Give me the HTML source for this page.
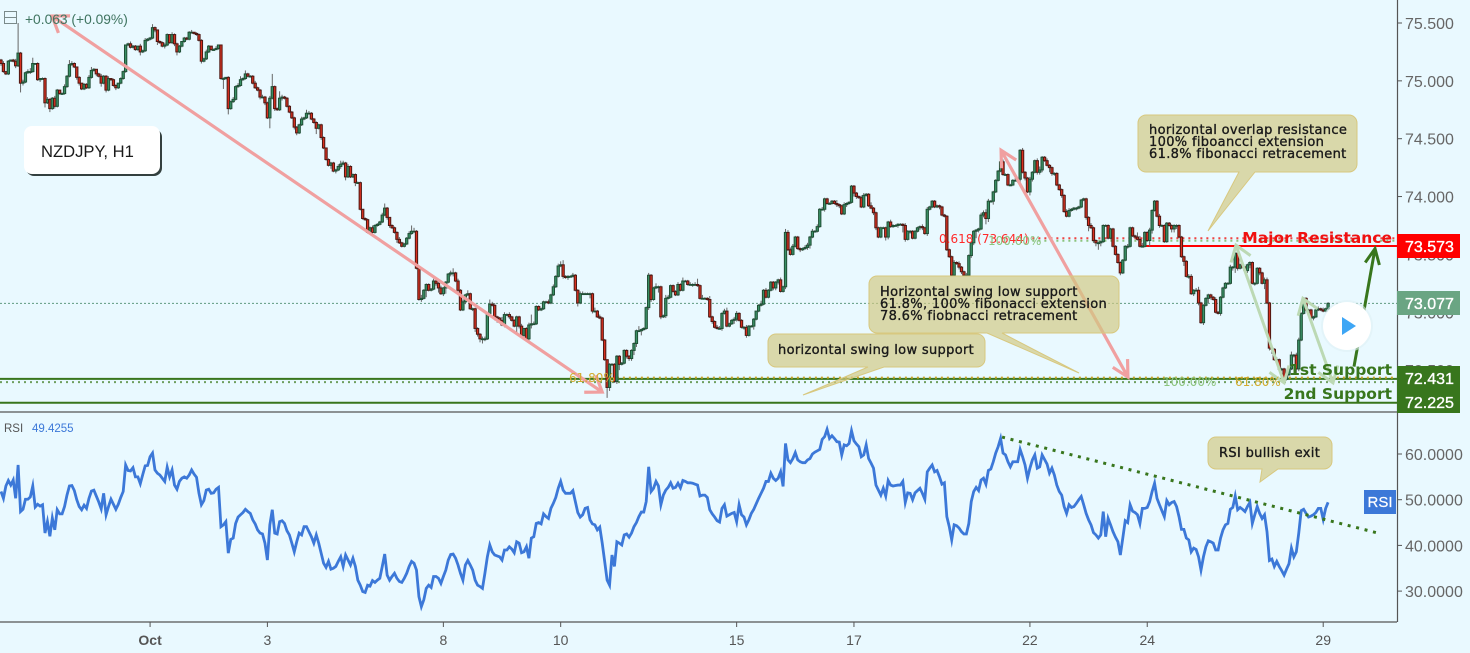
<!DOCTYPE html>
<html lang="en"><head><meta charset="utf-8"><title>NZDJPY H1 chart</title>
<style>
html,body{margin:0;padding:0;background:#e9f9ff;overflow:hidden}
svg{display:block;font-family:"Liberation Sans",sans-serif}
.note{font-family:"DejaVu Sans",sans-serif;font-size:13px;letter-spacing:.33px;fill:#1a1a1a;stroke:#1a1a1a;stroke-width:.35px}
.big{font-family:"DejaVu Sans",sans-serif;font-size:15.5px;font-weight:bold}
.tick{font-size:16px;fill:#666}
.xt{font-size:14px;fill:#555;text-anchor:middle}
.lbl{font-size:16px;fill:#fff;stroke:#fff;stroke-width:.35px}
.fib{font-family:"DejaVu Sans",sans-serif;font-size:12px}
</style></head>
<body>
<svg id="chart" width="1470" height="653" viewBox="0 0 1470 653" xmlns="http://www.w3.org/2000/svg">
<rect width="1470" height="653" fill="#e9f9ff"/>
<g id="levels"></g>
<g id="candles"></g>
<g id="rsi"></g>
<g id="arrows"></g>
<g>
<text class="fib" x="939" y="243" fill="#ff2a2a">0.618 (73.644)</text>
<text class="fib" x="988" y="245" fill="#8cc47e">100.00%</text>
<text class="fib" x="569" y="382" fill="#d2ac2e">61.80%</text>
<text class="fib" x="1163" y="386" fill="#8cc47e">100.00%</text>
<text class="fib" x="1235" y="386" fill="#d2ac2e">61.80%</text>
</g>
<g>
<path d="M1146 115H1349a8 8 0 0 1 8 8V164a8 8 0 0 1-8 8H1255L1208 231L1239 172H1146a8 8 0 0 1-8-8V123a8 8 0 0 1 8-8Z" fill="rgba(210,200,130,.68)" stroke="#d8c87f"/>
<text class="note" x="1149" y="134">horizontal overlap resistance</text>
<text class="note" x="1149" y="146">100% fiboancci extension</text>
<text class="note" x="1149" y="158">61.8% fibonacci retracement</text>
</g>
<g>
<path d="M877 276H1111a8 8 0 0 1 8 8V325a8 8 0 0 1-8 8H1002L1079 373L987 333H877a8 8 0 0 1-8-8V284a8 8 0 0 1 8-8Z" fill="rgba(210,200,130,.68)" stroke="#d8c87f"/>
<text class="note" x="880" y="296">Horizontal swing low support</text>
<text class="note" x="880" y="308">61.8%, 100% fibonacci extension</text>
<text class="note" x="880" y="320">78.6% fiobnacci retracement</text>
</g>
<g>
<path d="M776 334H977a8 8 0 0 1 8 8V359a8 8 0 0 1-8 8H884L803 395L868 367H776a8 8 0 0 1-8-8V342a8 8 0 0 1 8-8Z" fill="rgba(210,200,130,.68)" stroke="#d8c87f"/>
<text class="note" x="778" y="354">horizontal swing low support</text>
</g>
<g>
<path d="M1216 437H1324a8 8 0 0 1 8 8V461a8 8 0 0 1-8 8H1278L1260 482L1262 469H1216a8 8 0 0 1-8-8V445a8 8 0 0 1 8-8Z" fill="rgba(210,200,130,.68)" stroke="#d8c87f"/>
<text class="note" x="1219" y="457">RSI bullish exit</text>
</g>
<text class="big" x="1392" y="243" text-anchor="end" fill="#f01010">Major Resistance</text>
<text class="big" x="1392" y="375" text-anchor="end" fill="#38761d">1st Support</text>
<text class="big" x="1392" y="399" text-anchor="end" fill="#38761d">2nd Support</text>
<g id="axes"></g>
<g>
<rect x="1397" y="234" width="63" height="24" fill="#ff0000"/>
<text class="lbl" x="1405" y="252">73.573</text>
<rect x="1397" y="291" width="63" height="24" fill="#6aa583"/>
<text class="lbl" x="1405" y="309">73.077</text>
<rect x="1397" y="366" width="63" height="24" fill="#38761d"/>
<text class="lbl" x="1405" y="384">72.431</text>
<rect x="1397" y="390" width="63" height="23" fill="#38761d"/>
<text class="lbl" x="1405" y="408">72.225</text>
<rect x="1364" y="490" width="32" height="24" fill="#3c78d8"/>
<text x="1380" y="507" text-anchor="middle" font-size="15" fill="#fff" stroke="#fff" stroke-width=".2">RSI</text>
</g>
<g>
<rect x="4.5" y="11.5" width="12" height="12" fill="none" stroke="#7a8a8a"/>
<line x1="4.5" y1="17.5" x2="16.5" y2="17.5" stroke="#7a8a8a"/>
</g>
<text x="25" y="24" font-size="13.8" fill="#3f7460">+0.063 (+0.09%)</text>
<text x="4" y="432" font-size="11.5" fill="#555">RSI</text>
<text x="32" y="432" font-size="11.5" fill="#3c78d8">49.4255</text>
<g>
<rect x="26" y="129" width="136" height="47" rx="8" fill="#34403f"/>
<rect x="24" y="126" width="136" height="48" rx="8" fill="#fff"/>
<text x="41" y="157" font-size="16.6" fill="#1a1a1a">NZDJPY, H1</text>
</g>
<g>
<circle cx="1347" cy="326" r="26" fill="#dff0f5" opacity=".6"/>
<circle cx="1347" cy="326" r="24" fill="#fff"/>
<path d="M1342 317L1356 326L1342 335Z" fill="#3ea6f5"/>
</g>
</svg>
<script>
const closes=[
75.15,75.08,75.06,75.17,75.18,75.17,75.13,75.24,74.98,74.99,
75.07,75.08,75.08,75.15,75.15,75.01,75.02,75.02,74.81,74.84,
74.76,74.85,74.78,74.92,74.89,74.89,74.95,75.04,75.14,75.15,
75.12,75.03,74.98,74.93,74.97,74.94,75.03,75.09,75.10,75.06,
75.04,74.98,75.04,74.92,75.02,75.01,74.96,74.94,74.98,75.02,
75.08,75.31,75.32,75.29,75.30,75.27,75.30,75.25,75.26,75.35,
75.36,75.37,75.46,75.44,75.34,75.33,75.30,75.31,75.40,75.33,
75.40,75.32,75.25,75.30,75.34,75.37,75.36,75.42,75.42,75.41,
75.40,75.35,75.17,75.19,75.25,75.30,75.27,75.27,75.28,75.31,
75.02,75.02,75.03,74.76,74.82,74.84,74.95,74.96,75.01,75.02,
75.06,75.04,75.04,74.98,74.94,74.92,74.86,74.86,74.81,74.68,
74.85,74.95,74.76,74.75,74.85,74.86,74.85,74.78,74.73,74.68,
74.60,74.55,74.62,74.67,74.68,74.72,74.72,74.67,74.64,74.59,
74.62,74.51,74.42,74.32,74.27,74.29,74.22,74.23,74.26,74.28,
74.29,74.17,74.26,74.17,74.19,74.12,74.12,73.89,73.81,73.80,
73.69,73.73,73.69,73.75,73.76,73.78,73.84,73.90,73.82,73.75,
73.73,73.69,73.63,73.60,73.57,73.59,73.64,73.68,73.70,73.70,
73.38,73.11,73.12,73.19,73.24,73.19,73.20,73.27,73.25,73.21,
73.16,73.21,73.26,73.33,73.34,73.34,73.27,73.19,73.02,73.09,
73.15,73.16,73.03,73.03,72.86,72.81,72.77,72.77,72.77,72.99,
73.07,73.06,72.96,72.95,72.93,72.89,72.98,72.98,72.96,72.93,
72.88,72.96,72.88,72.80,72.86,72.77,72.89,72.90,72.90,73.05,
73.02,73.03,73.09,73.09,73.08,73.15,73.22,73.31,73.40,73.41,
73.31,73.30,73.31,73.31,73.32,73.19,73.08,73.16,73.16,73.16,
73.16,73.16,73.01,73.01,72.96,72.95,72.76,72.59,72.35,72.55,
72.55,72.40,72.62,72.55,72.56,72.67,72.62,72.60,72.67,72.73,
72.84,72.84,72.85,72.86,73.04,73.32,73.11,73.21,73.22,73.22,
72.96,72.97,73.12,73.13,73.23,73.18,73.15,73.24,73.19,73.27,
73.27,73.24,73.24,73.24,73.24,73.23,73.12,73.12,73.12,73.11,
72.96,72.92,72.87,72.86,72.86,72.99,73.01,72.88,72.90,72.93,
72.94,72.99,72.93,72.87,72.87,72.80,72.88,72.88,72.94,73.01,
73.06,73.07,73.19,73.13,73.19,73.26,73.21,73.26,73.28,73.18,
73.22,73.69,73.54,73.50,73.57,73.65,73.55,73.54,73.55,73.56,
73.58,73.65,73.70,73.70,73.74,73.89,73.89,73.98,73.94,73.94,
73.96,73.94,73.93,73.92,73.85,73.93,73.94,73.95,74.09,74.03,
74.00,73.99,73.91,74.01,74.02,73.92,73.90,73.86,73.73,73.65,
73.73,73.73,73.65,73.78,73.74,73.75,73.75,73.76,73.76,73.75,
73.63,73.70,73.70,73.64,73.70,73.73,73.74,73.73,73.68,73.89,
73.91,73.96,73.91,73.92,73.91,73.84,73.83,73.54,73.48,73.32,
73.43,73.42,73.39,73.35,73.32,73.32,73.49,73.60,73.70,73.71,
73.72,73.84,73.86,73.81,73.96,73.96,74.04,74.14,74.22,74.30,
74.19,74.19,74.10,74.10,74.14,74.14,74.15,74.40,74.21,74.16,
74.04,74.15,74.21,74.31,74.21,74.23,74.34,74.31,74.27,74.25,
74.20,74.20,74.10,74.06,74.01,73.87,73.83,73.88,73.89,73.90,
73.90,73.91,73.97,73.98,73.82,73.75,73.73,73.62,73.60,73.60,
73.61,73.75,73.75,73.64,73.72,73.57,73.50,73.43,73.34,73.45,
73.57,73.57,73.73,73.66,73.65,73.63,73.57,73.57,73.69,73.62,
73.71,73.88,73.96,73.83,73.75,73.75,73.61,73.77,73.75,73.72,
73.75,73.75,73.65,73.48,73.44,73.31,73.31,73.16,73.19,73.19,
73.08,72.91,73.06,73.12,73.15,73.13,73.11,73.00,72.99,73.13,
73.21,73.25,73.25,73.39,73.39,73.51,73.38,73.41,73.39,73.36,
73.41,73.43,73.25,73.25,73.38,73.34,73.25,73.28,73.08,72.69,
72.68,72.59,72.59,72.51,72.51,72.42,72.46,72.51,72.63,72.63,
72.51,72.76,72.99,73.12,73.02,73.02,72.95,72.96,73.02,73.03,
73.02,73.01,73.03,73.077];
const wickUp=[
1,2,0,1,0,1,2,26,1,2, 1,2,3,5,0,1,0,1,1,2,
1,1,2,1,0,1,2,1,4,2, 1,0,1,0,1,1,2,3,1,0,
1,2,1,1,2,0,1,1,0,1, 1,0,1,2,1,1,0,2,1,2,
1,1,3,1,0,1,1,2,1,0, 2,1,1,1,0,1,1,1,2,0,
1,1,1,1,2,1,0,1,2,0, 0,1,0,1,1,2,1,2,3,1,
3,1,1,1,2,1,1,2,1,1, 2,11,1,1,6,2,1,1,1,1,
1,1,1,2,1,3,2,1,1,1, 1,1,1,0,1,1,1,1,2,3,
2,1,2,1,1,1,1,1,0,1, 1,1,2,1,1,1,2,4,1,0,
1,1,1,2,1,1,1,2,5,3, 1,1,3,1,1,1,1,2,3,1,
2,1,1,1,2,4,1,2,1,2, 1,3,1,1,1,1,1,2,2,1,
4,2,2,1,1,3,2,1,2,1, 1,1,1,2,0,1,2,8,2,1,
1,1,1,1,2,1,2,1,2,3, 4,1,1,1,2,1,1,2,2,1,
1,1,1,3,1,2,1,1,0,1, 1,1,1,1,1,1,1,1,1,1,
1,4,1,1,1,2,1,1,3,1, 1,1,3,2,1,1,1,2,1,3,
1,1,2,1,2,5,1,3,1,1, 3,1,1,2,2,1,2,3,1,1,
2,2,1,1,1,2,1,1,1,0, 1,3,1,2,1,1,1,1,1,2,
1,3,2,2,2,1,1,1,1,2, 2,1,2,1,2,1,2,1,1,1,
1,1,3,1,1,2,1,1,1,1, 1,1,2,2,1,1,3,1,1,1,
1,1,1,1,2,1,1,1,1,1, 2,1,1,1,1,1,1,2,1,2,
1,1,1,1,1,1,1,1,1,1, 2,1,2,1,1,2,1,1,1,1,
1,2,2,3,2,1,1,1,1,2, 2,1,1,1,1,2,1,1,2,1,
1,2,1,1,2,3,1,1,2,1, 1,1,1,1,1,1,2,2,1,1,
1,1,1,1,1,1,2,1,1,1, 1,1,1,1,1,1,1,1,1,1,
1,2,1,1,1,4,3,3,1,1, 2,1,1,1,2,1,1,1,1,1,
1,1,1,1,1,1,2,2,1,2, 3,1,1,1,1,1,1,2,1,1,
1,1,1,2,1,1,1,1,1,1, 1,1,1,1,1,1,1,2,2,1,
1,1,2,1,1,1,1,1,3,1, 2,2,1,1,1,1,1,1,1,2,
1,2,1,1];
const wickDown=[
2,1,1,1,0,1,2,1,8,2, 1,1,2,1,1,1,2,1,4,1,
3,1,2,1,1,1,1,1,1,1, 1,2,2,1,1,1,1,1,1,2,
1,3,1,2,1,1,1,2,1,1, 1,1,1,1,1,1,1,3,1,1,
1,1,1,2,3,1,1,2,1,1, 1,2,3,1,1,1,1,1,1,1,
1,1,2,1,1,1,1,1,0,1, 1,9,1,5,1,1,1,1,1,1,
1,1,1,1,1,1,2,1,2,1, 9,1,2,1,1,2,1,1,1,1,
2,2,1,1,1,1,1,1,1,5, 1,2,1,1,1,3,1,2,1,2,
1,3,1,1,1,3,1,1,1,1, 1,2,1,1,1,1,1,1,2,2,
1,1,3,1,1,1,1,1,1,1, 1,1,2,1,6,1,1,1,2,4,
1,2,5,1,2,3,1,1,1,1, 2,1,1,2,3,2,3,4,2,1,
1,1,3,4,1,1,2,1,2,1, 1,6,2,1,1,1,2,3,1,1,
1,1,1,1,1,1,1,1,1,1, 2,1,2,1,1,1,3,1,1,1,
1,4,2,1,1,1,1,1,9,3, 1,1,2,5,1,1,2,2,2,4,
3,1,4,1,1,2,2,1,1,5, 2,1,2,1,1,1,1,1,1,1,
1,1,1,2,1,1,1,1,1,1, 1,2,1,1,1,2,1,1,1,1,
3,2,1,1,2,2,1,1,3,1, 1,1,1,1,1,1,2,2,2,1,
1,2,1,1,1,1,1,2,1,1, 2,3,1,1,1,1,1,2,1,1,
1,1,2,2,1,1,2,1,1,3, 2,1,1,1,1,1,1,2,2,1,
1,1,3,2,1,1,1,2,1,6, 2,1,2,1,1,1,2,2,1,2,
1,1,1,1,2,1,1,1,1,1, 1,1,2,2,1,1,1,2,2,6,
2,1,2,5,3,1,3,1,1,1, 1,1,1,1,1,1,2,3,1,2,
1,3,2,1,2,2,2,1,1,4, 2,2,1,1,2,1,1,1,1,1,
2,1,1,1,2,5,1,2,3,6, 3,1,1,1,1,1,1,1,2,1,
1,2,1,1,1,1,1,1,1,1, 5,3,1,1,2,1,1,1,1,3,
3,3,1,1,4,1,2,1,2,1, 2,1,2,1,4,2,1,1,1,2,
1,1,1,1,3,5,2,1,1,1, 2,3,1,2,1,2,1,5,1,2,
4,1,1,1,2,3,1,1,1,2, 5,2,1,1,1,1,1,2,1,1,
1,1,1,1];
const rsiValues=[
51.8,50.3,53.0,54.2,53.2,54.3,50.3,57.6,47.4,47.9,
50.1,50.1,50.6,53.0,48.4,49.0,48.6,48.9,42.7,45.2,
42.0,46.0,43.4,47.8,46.9,46.9,48.5,51.0,53.0,53.1,
52.0,50.0,48.5,47.8,48.8,48.1,50.3,51.9,52.1,50.8,
49.5,48.0,51.4,46.7,48.5,50.1,49.0,47.9,49.0,50.5,
51.8,57.6,56.4,56.3,57.0,55.0,55.0,53.5,55.5,57.4,
57.5,59.4,60.2,56.5,55.8,55.4,54.7,54.0,57.1,55.0,
56.5,53.2,52.3,54.0,54.7,55.0,54.7,55.4,56.5,55.6,
54.9,51.4,48.9,49.8,52.1,52.3,51.4,51.5,52.3,52.7,
44.1,44.5,45.2,38.3,41.3,41.6,44.8,46.2,46.7,47.2,
47.9,47.4,47.0,45.6,44.7,43.4,42.7,42.5,40.5,36.8,
44.5,47.8,42.7,42.5,45.2,45.4,44.8,43.2,42.3,40.5,
38.6,40.8,42.7,42.3,44.1,44.1,43.0,41.9,40.5,42.3,
40.5,38.3,36.1,35.2,36.5,34.8,35.0,35.4,36.5,37.5,
35.4,37.9,36.8,35.7,37.2,35.4,32.4,31.3,29.9,29.7,
31.3,31.1,32.3,31.9,32.4,32.8,35.4,38.1,33.5,32.4,
33.2,33.9,32.8,32.1,31.9,32.8,33.9,35.4,36.5,36.1,
34.6,28.8,26.6,28.1,30.6,31.3,30.8,33.2,33.2,32.8,
31.7,33.2,34.6,36.8,38.0,38.1,37.2,35.7,33.9,32.4,
35.7,36.7,35.7,34.6,32.4,31.3,31.0,30.6,33.9,37.5,
40.1,38.6,37.9,37.7,37.5,36.8,39.0,39.0,39.7,39.2,
38.4,40.8,40.5,38.4,38.6,39.7,37.2,41.6,41.9,44.8,
45.0,44.7,46.9,46.3,45.9,48.1,49.2,50.5,52.5,54.0,
52.1,51.4,51.4,51.4,52.0,49.6,47.2,46.2,46.7,48.1,
48.3,45.6,44.7,44.5,43.4,44.0,40.5,36.5,32.4,31.3,
37.9,35.4,40.8,40.5,40.1,42.3,42.5,41.8,42.7,44.1,
45.0,46.3,47.3,47.3,49.6,57.2,51.8,52.5,54.0,53.0,
48.9,51.0,52.1,52.7,53.7,52.5,52.7,53.6,52.6,54.2,
54.0,53.7,53.7,53.6,53.4,53.2,50.8,51.0,51.0,50.5,
47.8,46.9,46.2,45.4,45.1,48.1,48.9,46.4,46.7,47.0,
47.2,45.2,48.9,46.7,46.2,44.5,45.6,47.0,47.9,49.1,
50.3,51.4,52.5,54.0,54.0,55.8,54.7,54.2,54.7,56.1,
52.9,62.3,58.7,58.1,59.0,60.3,58.7,58.3,58.1,58.1,
58.7,59.0,60.0,60.4,60.7,61.0,63.2,63.8,65.4,63.4,
64.0,63.4,62.7,62.6,59.8,62.0,61.8,62.3,65.1,62.9,
62.2,61.6,59.4,59.8,62.0,59.0,58.0,56.9,53.2,52.1,
51.0,52.5,50.8,54.2,53.2,53.0,53.1,53.2,53.2,54.0,
49.4,51.5,51.4,50.0,51.5,52.0,52.5,51.4,50.1,56.1,
56.9,57.6,56.1,56.4,55.0,53.4,53.7,46.3,44.1,41.2,
44.5,44.3,43.8,43.0,42.5,42.5,44.8,49.6,51.8,52.7,
52.0,54.3,54.7,53.4,56.4,56.7,58.3,60.2,61.6,63.4,
60.2,59.8,58.3,57.2,58.3,58.3,58.3,61.0,59.4,57.6,
54.7,56.9,58.7,59.8,56.9,57.2,59.8,58.8,57.8,55.8,
56.9,55.4,53.2,51.8,51.0,48.5,47.0,48.9,48.3,48.5,
49.2,50.0,50.7,48.9,47.0,45.6,44.5,42.8,42.3,41.6,
42.3,47.4,41.9,45.9,44.5,43.0,41.8,40.8,37.9,41.6,
45.4,45.0,48.9,47.5,47.2,46.7,44.8,48.1,48.1,48.3,
49.6,51.8,53.6,50.3,48.9,47.6,46.3,49.8,48.9,49.4,
49.6,48.5,46.3,43.5,43.5,41.6,41.2,38.6,39.4,39.1,
37.5,34.6,37.5,39.7,41.0,40.8,40.5,39.0,39.0,41.6,
43.4,44.5,44.8,47.9,48.3,50.8,47.8,48.3,47.9,47.4,
48.5,49.4,44.8,46.7,48.5,47.0,45.9,46.7,43.0,36.7,
37.0,35.4,36.5,35.4,34.5,33.5,34.8,36.0,39.4,37.5,
38.6,42.7,47.6,47.9,47.0,46.2,46.4,46.7,47.2,48.1,
48.1,45.7,48.1,49.4255];
const priceTicks=[75.5,75,74.5,74,73.5,73,72.5];
const priceTickLabels=["75.500","75.000","74.500","74.000","73.500","73.000","72.500"];
const rsiTicks=[60,50,40,30];
const rsiTickLabels=["60.0000","50.0000","40.0000","30.0000"];
const timeTickBars=[61,109,181,229,301,349,421,469,541];
const timeTickLabels=["Oct","3","8","10","15","17","22","24","29"];
const supportLevels=[72.431,72.225];
const resistanceLevel=73.573;
const fibLevel=73.644;
const lastPrice=73.077;
const pinkArrowOne=[20.9,75.56,246,72.31];
const pinkArrowTwo=[409.2,74.40,461.1,72.44];
const paleArrowOne=[505.3,73.58,525,72.39];
const paleArrowTwo=[532.7,73.12,545,72.39];
const greenArrow=[553.6,72.53,562.2,73.55];
const rsiTrend=[409.6,63.7,563.4,42.7];

const NS='http://www.w3.org/2000/svg';
const xBar=i=>1+2.444*i;
const yPrice=p=>23+(75.5-p)*115.7;
const yRsi=v=>454+(60-v)*4.57;
function mk(tag,parent,attrs){const e=document.createElementNS(NS,tag);for(const k in attrs)e.setAttribute(k,attrs[k]);parent.appendChild(e);return e;}
const levels=document.getElementById('levels'),candles=document.getElementById('candles'),rsiG=document.getElementById('rsi'),arrows=document.getElementById('arrows'),axes=document.getElementById('axes');

/* levels */
let el=mk('line',levels,{x1:0,x2:1397,y1:yPrice(lastPrice),y2:yPrice(lastPrice),stroke:'#5f9a80','stroke-width':1,'stroke-dasharray':'2 2'});


supportLevels.forEach((lv,n)=>{
  const s=mk('line',levels,{x1:0,x2:1397,y1:yPrice(lv)+.8,y2:yPrice(lv)+.8,stroke:'#38761d','stroke-width':2});
  
  
});
el=mk('line',levels,{x1:0,x2:1397,y1:yPrice(supportLevels[0])+4,y2:yPrice(supportLevels[0])+4,stroke:'#6f9f5f','stroke-width':2,'stroke-dasharray':'2 4'});


el=mk('line',levels,{x1:xBar(252),x2:1397,y1:yPrice(supportLevels[0])-.5,y2:yPrice(supportLevels[0])-.5,stroke:'#c9a227','stroke-width':2,'stroke-dasharray':'2 4'});


el=mk('line',levels,{x1:xBar(422),x2:1397,y1:yPrice(fibLevel)+.5,y2:yPrice(fibLevel)+.5,stroke:'#f04040','stroke-width':2,'stroke-dasharray':'2 4'});


el=mk('line',levels,{x1:xBar(422),x2:1397,y1:yPrice(fibLevel)+3,y2:yPrice(fibLevel)+3,stroke:'#8cc47e','stroke-width':2,'stroke-dasharray':'2 4'});


el=mk('line',levels,{x1:xBar(466),x2:1397,y1:yPrice(resistanceLevel),y2:yPrice(resistanceLevel),stroke:'#ff0000','stroke-width':2});



/* candles */
closes.forEach((c,i)=>{
  const o=i?closes[i-1]:c+0.03;
  const top=Math.max(o,c),bot=Math.min(o,c);
  const hi=top+(wickUp[i]||0)/100,lo=bot-(wickDown[i]||0)/100;
  const up=c>=o;
  const x=xBar(i);
  const g=mk('g',candles,{});
  
  
  mk('line',g,{x1:x,x2:x,y1:yPrice(hi),y2:yPrice(lo),stroke:'#666','stroke-width':1});
  mk('rect',g,{x:x-1.15,y:yPrice(top),width:2.3,height:Math.max(yPrice(bot)-yPrice(top),.8),fill:up?'#3a9065':'#d8301f',stroke:up?'#1f4f35':'#4d1712','stroke-width':1});
});

/* rsi */
el=mk('polyline',rsiG,{points:rsiValues.map((v,i)=>xBar(i)+','+yRsi(v)).join(' '),fill:'none',stroke:'#3c78d8','stroke-width':2.8,'stroke-linejoin':'miter','stroke-miterlimit':6});


el=mk('line',rsiG,{x1:xBar(rsiTrend[0]),y1:yRsi(rsiTrend[1]),x2:xBar(rsiTrend[2]),y2:yRsi(rsiTrend[3]),stroke:'#38761d','stroke-width':3,'stroke-dasharray':'3 5.7'});



/* arrows */
function arrowPath(a,len,ang,both){
  const x1=xBar(a[0]),y1=yPrice(a[1]),x2=xBar(a[2]),y2=yPrice(a[3]);
  const t=Math.atan2(y2-y1,x2-x1),r=ang*Math.PI/180;
  let d='M'+x1+' '+y1+'L'+x2+' '+y2;
  d+='M'+(x2-len*Math.cos(t-r))+' '+(y2-len*Math.sin(t-r))+'L'+x2+' '+y2+'L'+(x2-len*Math.cos(t+r))+' '+(y2-len*Math.sin(t+r));
  if(both)d+='M'+(x1+len*Math.cos(t-r))+' '+(y1+len*Math.sin(t-r))+'L'+x1+' '+y1+'L'+(x1+len*Math.cos(t+r))+' '+(y1+len*Math.sin(t+r));
  return d;
}
el=mk('path',arrows,{d:arrowPath(pinkArrowOne,18,35,true),fill:'none',stroke:'#f0a0a0','stroke-width':3.2});


el=mk('path',arrows,{d:arrowPath(pinkArrowTwo,18,28,true),fill:'none',stroke:'#f0a0a0','stroke-width':3.2});


el=mk('path',arrows,{d:arrowPath(paleArrowOne,18,35,true),fill:'none',stroke:'#bcd9b4','stroke-width':3});


el=mk('path',arrows,{d:arrowPath(paleArrowTwo,18,35,true),fill:'none',stroke:'#bcd9b4','stroke-width':3});


el=mk('path',arrows,{d:arrowPath(greenArrow,17,25,false),fill:'none',stroke:'#38761d','stroke-width':3});



/* axes */
el=mk('path',axes,{d:'M0 412H1397M0 622H1397M1397.5 0V622',fill:'none',stroke:'#555','stroke-width':1.2});


priceTicks.forEach((p,n)=>{
  const t=mk('line',axes,{x1:1397,x2:1402,y1:yPrice(p),y2:yPrice(p),stroke:'#555'});
  
  
  const l=mk('text',axes,{x:1405,y:yPrice(p)+6,class:'tick'});
  
  
  l.textContent=priceTickLabels[n];
});
rsiTicks.forEach((v,n)=>{
  const t=mk('line',axes,{x1:1397,x2:1402,y1:yRsi(v),y2:yRsi(v),stroke:'#555'});
  
  
  const l=mk('text',axes,{x:1405,y:yRsi(v)+6,class:'tick'});
  
  
  l.textContent=rsiTickLabels[n];
});
timeTickBars.forEach((b,n)=>{
  const t=mk('line',axes,{x1:xBar(b),x2:xBar(b),y1:622,y2:627,stroke:'#555'});
  
  
  const l=mk('text',axes,{x:xBar(b),y:645,class:'xt','font-weight':n===0?'bold':'normal'});
  
  
  l.textContent=timeTickLabels[n];
});
</script>
</body></html>
